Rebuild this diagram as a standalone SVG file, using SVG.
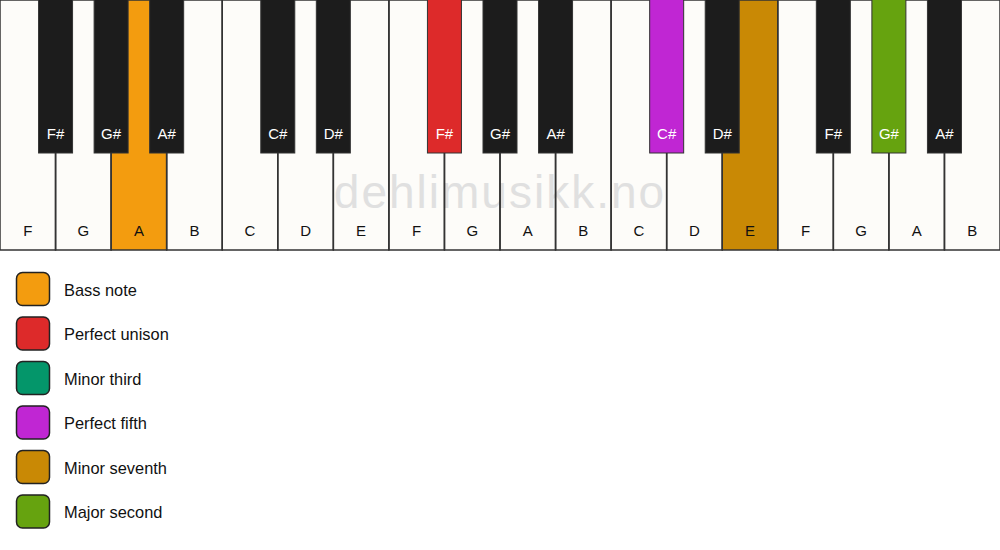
<svg xmlns="http://www.w3.org/2000/svg" width="1000" height="550" viewBox="0 0 1000 550">
<style>
.w{fill:#fdfcf9;stroke:none}
.wo{fill:none;stroke:#333;stroke-width:1.5}
.b{fill:#1c1c1c;stroke:#333;stroke-width:1}
.wl{font-family:"Liberation Sans",Arial,sans-serif;font-size:15px;fill:#111;text-anchor:middle}
.bl{font-family:"Liberation Sans",Arial,sans-serif;font-size:15px;fill:#fff;text-anchor:middle}
.lg{stroke:#222;stroke-width:1.5}
.lt{font-family:"Liberation Sans",Arial,sans-serif;font-size:16.4px;fill:#111}
</style>
<rect width="1000" height="550" fill="#fff"/>
<g id="white-keys">
<rect class="w" x="0" y="0" width="55.56" height="250"/>
<rect class="w" x="55.56" y="0" width="55.56" height="250"/>
<rect class="w" x="111.11" y="0" width="55.56" height="250" style="fill:#f39c0f"/>
<rect class="w" x="166.67" y="0" width="55.56" height="250"/>
<rect class="w" x="222.22" y="0" width="55.56" height="250"/>
<rect class="w" x="277.78" y="0" width="55.56" height="250"/>
<rect class="w" x="333.33" y="0" width="55.56" height="250"/>
<rect class="w" x="388.89" y="0" width="55.56" height="250"/>
<rect class="w" x="444.44" y="0" width="55.56" height="250"/>
<rect class="w" x="500" y="0" width="55.56" height="250"/>
<rect class="w" x="555.56" y="0" width="55.56" height="250"/>
<rect class="w" x="611.11" y="0" width="55.56" height="250"/>
<rect class="w" x="666.67" y="0" width="55.56" height="250"/>
<rect class="w" x="722.22" y="0" width="55.56" height="250" style="fill:#c98905"/>
<rect class="w" x="777.78" y="0" width="55.56" height="250"/>
<rect class="w" x="833.33" y="0" width="55.56" height="250"/>
<rect class="w" x="888.89" y="0" width="55.56" height="250"/>
<rect class="w" x="944.44" y="0" width="55.56" height="250"/>
</g>
<text x="500" y="208" font-family="'Liberation Sans',Arial,sans-serif" font-size="46" fill="#e0e0e0" text-anchor="middle" letter-spacing="2">dehlimusikk.no</text>
<g id="white-outlines">
<rect class="wo" x="0" y="0" width="55.56" height="250"/>
<rect class="wo" x="55.56" y="0" width="55.56" height="250"/>
<rect class="wo" x="111.11" y="0" width="55.56" height="250"/>
<rect class="wo" x="166.67" y="0" width="55.56" height="250"/>
<rect class="wo" x="222.22" y="0" width="55.56" height="250"/>
<rect class="wo" x="277.78" y="0" width="55.56" height="250"/>
<rect class="wo" x="333.33" y="0" width="55.56" height="250"/>
<rect class="wo" x="388.89" y="0" width="55.56" height="250"/>
<rect class="wo" x="444.44" y="0" width="55.56" height="250"/>
<rect class="wo" x="500" y="0" width="55.56" height="250"/>
<rect class="wo" x="555.56" y="0" width="55.56" height="250"/>
<rect class="wo" x="611.11" y="0" width="55.56" height="250"/>
<rect class="wo" x="666.67" y="0" width="55.56" height="250"/>
<rect class="wo" x="722.22" y="0" width="55.56" height="250"/>
<rect class="wo" x="777.78" y="0" width="55.56" height="250"/>
<rect class="wo" x="833.33" y="0" width="55.56" height="250"/>
<rect class="wo" x="888.89" y="0" width="55.56" height="250"/>
<rect class="wo" x="944.44" y="0" width="55.56" height="250"/>
</g>
<g id="white-labels">
<text class="wl" x="27.78" y="236">F</text>
<text class="wl" x="83.33" y="236">G</text>
<text class="wl" x="138.89" y="236">A</text>
<text class="wl" x="194.44" y="236">B</text>
<text class="wl" x="250" y="236">C</text>
<text class="wl" x="305.56" y="236">D</text>
<text class="wl" x="361.11" y="236">E</text>
<text class="wl" x="416.67" y="236">F</text>
<text class="wl" x="472.22" y="236">G</text>
<text class="wl" x="527.78" y="236">A</text>
<text class="wl" x="583.33" y="236">B</text>
<text class="wl" x="638.89" y="236">C</text>
<text class="wl" x="694.44" y="236">D</text>
<text class="wl" x="750" y="236">E</text>
<text class="wl" x="805.56" y="236">F</text>
<text class="wl" x="861.11" y="236">G</text>
<text class="wl" x="916.67" y="236">A</text>
<text class="wl" x="972.22" y="236">B</text>
</g>
<g id="black-keys">
<rect class="b" x="38.56" y="-1" width="34" height="154"/>
<rect class="b" x="94.11" y="-1" width="34" height="154"/>
<rect class="b" x="149.67" y="-1" width="34" height="154"/>
<rect class="b" x="260.78" y="-1" width="34" height="154"/>
<rect class="b" x="316.33" y="-1" width="34" height="154"/>
<rect class="b" x="427.44" y="-1" width="34" height="154" style="fill:#dd2a2a"/>
<rect class="b" x="483" y="-1" width="34" height="154"/>
<rect class="b" x="538.56" y="-1" width="34" height="154"/>
<rect class="b" x="649.67" y="-1" width="34" height="154" style="fill:#c026d3"/>
<rect class="b" x="705.22" y="-1" width="34" height="154"/>
<rect class="b" x="816.33" y="-1" width="34" height="154"/>
<rect class="b" x="871.89" y="-1" width="34" height="154" style="fill:#66a30f"/>
<rect class="b" x="927.44" y="-1" width="34" height="154"/>
</g>
<g id="black-labels">
<text class="bl" x="55.56" y="139">F#</text>
<text class="bl" x="111.11" y="139">G#</text>
<text class="bl" x="166.67" y="139">A#</text>
<text class="bl" x="277.78" y="139">C#</text>
<text class="bl" x="333.33" y="139">D#</text>
<text class="bl" x="444.44" y="139">F#</text>
<text class="bl" x="500" y="139">G#</text>
<text class="bl" x="555.56" y="139">A#</text>
<text class="bl" x="666.67" y="139">C#</text>
<text class="bl" x="722.22" y="139">D#</text>
<text class="bl" x="833.33" y="139">F#</text>
<text class="bl" x="888.89" y="139">G#</text>
<text class="bl" x="944.44" y="139">A#</text>
</g>
<g id="legend">
<g id="legend-bass"><rect class="lg" x="16.5" y="272.5" width="33" height="33" rx="6" fill="#f39c0f"/><text class="lt" x="64" y="295.5">Bass note</text></g>
<g id="legend-unison"><rect class="lg" x="16.5" y="317" width="33" height="33" rx="6" fill="#dd2a2a"/><text class="lt" x="64" y="340">Perfect unison</text></g>
<g id="legend-third"><rect class="lg" x="16.5" y="361.5" width="33" height="33" rx="6" fill="#04966a"/><text class="lt" x="64" y="384.5">Minor third</text></g>
<g id="legend-fifth"><rect class="lg" x="16.5" y="406" width="33" height="33" rx="6" fill="#c026d3"/><text class="lt" x="64" y="429">Perfect fifth</text></g>
<g id="legend-seventh"><rect class="lg" x="16.5" y="450.5" width="33" height="33" rx="6" fill="#c98905"/><text class="lt" x="64" y="473.5">Minor seventh</text></g>
<g id="legend-second"><rect class="lg" x="16.5" y="495" width="33" height="33" rx="6" fill="#66a30f"/><text class="lt" x="64" y="518">Major second</text></g>
</g>
</svg>
